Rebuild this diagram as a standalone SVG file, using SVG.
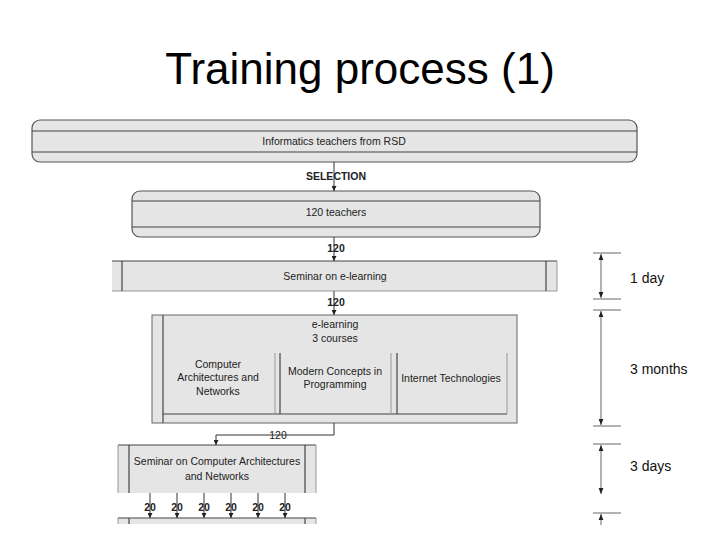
<svg xmlns="http://www.w3.org/2000/svg" width="720" height="540" viewBox="0 0 720 540">
<style>
.t{font-family:"Liberation Sans",Arial,sans-serif;font-size:10.5px;fill:#222;text-anchor:middle}
.b{font-weight:bold;font-size:10.5px}
.lbl{font-family:"Liberation Sans",Arial,sans-serif;font-size:14px;fill:#111}
.box{fill:#e5e5e5;stroke:#555;stroke-width:1.2}
.fill{fill:#e5e5e5;stroke:none}
.dk{stroke:#444;stroke-width:1.2;fill:none}
.lt{stroke:#999;stroke-width:1;fill:none}
.c{stroke:#333;stroke-width:1;fill:none}
.tl{stroke:#555;stroke-width:0.9;fill:none}
</style>
<defs>
<marker id="ah" viewBox="0 0 10 10" refX="10" refY="5" markerWidth="5" markerHeight="5" orient="auto" markerUnits="userSpaceOnUse">
<path d="M0,0 L10,5 L0,10 Z" fill="#222"/>
</marker>
<marker id="ahs" viewBox="0 0 10 10" refX="10" refY="5" markerWidth="6" markerHeight="6" orient="auto-start-reverse" markerUnits="userSpaceOnUse">
<path d="M0,1 L10,5 L0,9 Z" fill="#222"/>
</marker>
</defs>
<rect width="720" height="540" fill="#fff"/>
<text x="360" y="84" text-anchor="middle" font-family="Liberation Sans,Arial,sans-serif" font-size="44" fill="#000">Training process (1)</text>

<g id="informatics-teachers">
<rect class="box" x="32" y="120" width="605" height="42" rx="8"/>
<line class="dk" x1="32" y1="131" x2="637" y2="131"/>
<line class="dk" x1="32" y1="152" x2="637" y2="152"/>
<text class="t" x="334" y="145">Informatics teachers from RSD</text>
</g>

<g id="teachers-120">
<rect class="box" x="132" y="191" width="408" height="46" rx="8"/>
<line class="dk" x1="132" y1="201" x2="540" y2="201"/>
<line class="dk" x1="132" y1="227" x2="540" y2="227"/>
<text class="t" x="336" y="216">120 teachers</text>
</g>

<g id="seminar-elearning">
<rect class="fill" x="112" y="261" width="445" height="30"/>
<line class="dk" x1="112" y1="261" x2="557" y2="261"/>
<line class="lt" x1="112" y1="291" x2="557" y2="291"/>
<line class="dk" x1="122" y1="261" x2="122" y2="291"/>
<line class="dk" x1="546" y1="261" x2="546" y2="291"/>
<line class="lt" x1="557" y1="261" x2="557" y2="291"/>
<text class="t" x="335" y="280">Seminar on e-learning</text>
</g>

<g id="elearning-courses">
<rect x="152" y="315" width="365" height="108" style="fill:#e5e5e5;stroke:#666;stroke-width:1"/>
<line class="dk" x1="163" y1="315" x2="163" y2="423"/>
<line class="dk" x1="163" y1="414" x2="507" y2="414"/>
<line class="lt" x1="275" y1="353" x2="275" y2="414"/>
<line class="dk" x1="280" y1="353" x2="280" y2="414"/>
<line class="lt" x1="391" y1="353" x2="391" y2="414"/>
<line class="dk" x1="397" y1="353" x2="397" y2="414"/>
<line class="lt" x1="507" y1="353" x2="507" y2="414"/>
<text class="t" x="335" y="328">e-learning</text>
<text class="t" x="335" y="342">3 courses</text>
<text class="t" x="218" y="368">Computer</text>
<text class="t" x="218" y="381">Architectures and</text>
<text class="t" x="218" y="395">Networks</text>
<text class="t" x="335" y="375">Modern Concepts in</text>
<text class="t" x="335" y="388">Programming</text>
<text class="t" x="451" y="382">Internet Technologies</text>
</g>

<g id="seminar-can">
<rect class="fill" x="118" y="445" width="198" height="48"/>
<line class="dk" x1="118" y1="445" x2="316" y2="445"/>
<line class="lt" x1="118" y1="445" x2="118" y2="493"/>
<line class="lt" x1="316" y1="445" x2="316" y2="493"/>
<line class="dk" x1="129" y1="445" x2="129" y2="493"/>
<line class="dk" x1="305" y1="445" x2="305" y2="493"/>
<text class="t" x="217" y="465">Seminar on Computer Architectures</text>
<text class="t" x="217" y="480">and Networks</text>
</g>

<g id="next-box">
<rect class="fill" x="118" y="518" width="198" height="6"/>
<line class="dk" x1="118" y1="518" x2="316" y2="518"/>
<line class="lt" x1="118" y1="518" x2="118" y2="524"/>
<line class="lt" x1="316" y1="518" x2="316" y2="524"/>
<line class="dk" x1="129" y1="518" x2="129" y2="524"/>
<line class="dk" x1="305" y1="518" x2="305" y2="524"/>
</g>

<g id="connectors">
<line class="c" x1="334" y1="162" x2="334" y2="191" marker-end="url(#ah)"/>
<text class="t b" x="336" y="180">SELECTION</text>
<line class="c" x1="334" y1="237" x2="334" y2="261" marker-end="url(#ah)"/>
<text class="t b" x="336" y="252">120</text>
<line class="c" x1="334" y1="291" x2="334" y2="315" marker-end="url(#ah)"/>
<text class="t b" x="336" y="306">120</text>
<text class="t" x="278" y="439" fill="#555">120</text>
<path class="c" d="M334,423 V435 H216 V445" marker-end="url(#ah)"/>
<g>
<line class="c" x1="150" y1="493" x2="150" y2="518" marker-end="url(#ah)"/>
<line class="c" x1="177" y1="493" x2="177" y2="518" marker-end="url(#ah)"/>
<line class="c" x1="204" y1="493" x2="204" y2="518" marker-end="url(#ah)"/>
<line class="c" x1="231" y1="493" x2="231" y2="518" marker-end="url(#ah)"/>
<line class="c" x1="258" y1="493" x2="258" y2="518" marker-end="url(#ah)"/>
<line class="c" x1="285" y1="493" x2="285" y2="518" marker-end="url(#ah)"/>
<text class="t b" x="150" y="511">20</text>
<text class="t b" x="177" y="511">20</text>
<text class="t b" x="204" y="511">20</text>
<text class="t b" x="231" y="511">20</text>
<text class="t b" x="258" y="511">20</text>
<text class="t b" x="285" y="511">20</text>
</g>
</g>

<g id="timeline">
<line class="tl" x1="593" y1="253" x2="621" y2="253"/>
<line class="tl" x1="593" y1="299" x2="621" y2="299"/>
<line class="tl" x1="593" y1="310" x2="621" y2="310"/>
<line class="tl" x1="593" y1="426" x2="621" y2="426"/>
<line class="tl" x1="593" y1="444" x2="621" y2="444"/>
<line class="tl" x1="593" y1="513" x2="621" y2="513"/>
<line class="tl" x1="601" y1="254" x2="601" y2="298" marker-start="url(#ahs)" marker-end="url(#ahs)"/>
<line class="tl" x1="601" y1="311" x2="601" y2="425" marker-start="url(#ahs)" marker-end="url(#ahs)"/>
<line class="tl" x1="601" y1="445" x2="601" y2="494" marker-start="url(#ahs)" marker-end="url(#ahs)"/>
<line class="tl" x1="601" y1="514" x2="601" y2="525" marker-start="url(#ahs)"/>
<text class="lbl" x="630" y="283">1 day</text>
<text class="lbl" x="630" y="374">3 months</text>
<text class="lbl" x="630" y="471">3 days</text>
</g>
</svg>
